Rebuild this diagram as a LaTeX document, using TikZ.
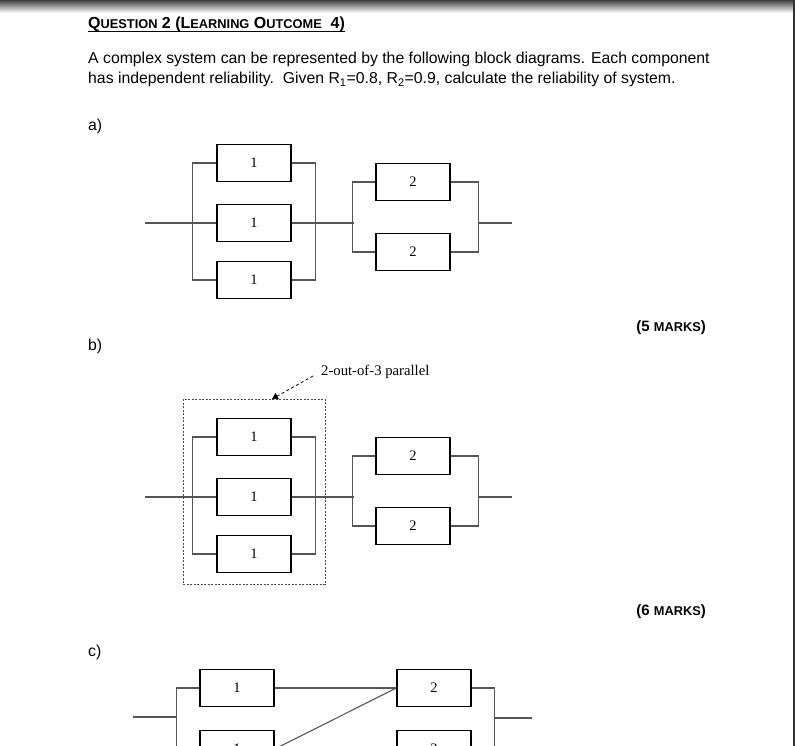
\documentclass[tikz,border=0pt]{standalone}
\usepackage{fontspec}
\setmainfont{Liberation Sans}
\newfontfamily\blkfont{Liberation Serif}
\usepackage{tikz}
\usetikzlibrary{positioning,arrows.meta,calc}
\definecolor{wiregray}{HTML}{555555}
\newcommand{\fsc}[1]{{\fontsize{12.8}{14}\selectfont #1}}
\tikzset{
  blk/.style={draw=black, line width=1.3pt, minimum width=74pt, minimum height=37pt,
              inner sep=0pt, font=\blkfont\fontsize{14.5}{16}\selectfont},
  wire/.style={draw=wiregray, line width=1.1pt},
  grp/.style={draw=black!70, line width=1pt, dash pattern=on 2pt off 1.5pt,
              minimum width=142pt, minimum height=185pt, inner sep=0pt},
  note/.style={-{Triangle[length=6pt,width=7pt]}, draw=black, line width=0.8pt,
               dash pattern=on 3pt off 2.5pt},
  txt/.style={anchor=base west, inner sep=0pt, font=\fontsize{15.8}{18}\selectfont},
  marks/.style={anchor=base east, inner sep=0pt, font=\bfseries\fontsize{15}{18}\selectfont},
}

\begin{document}
\begin{tikzpicture}[x=1pt,y=-1pt]
  \useasboundingbox (0,0) rectangle (795,746);
  \clip (0,0) rectangle (795,746);
  % page edge
  \shade[top color=black!75, bottom color=white] (0,0) rectangle (795,13);
  \draw[black!80, line width=2pt] (794,0) -- (794,746);

  % heading and question
  \node[anchor=base west, inner sep=0pt, font=\bfseries\fontsize{16}{18}\selectfont] (hd) at (88,29)
    {Q\fsc{UESTION} 2 (L\fsc{EARNING} O\fsc{UTCOME}\ \ 4)};
  \draw[line width=1.2pt] ([yshift=-2.5pt]hd.base west) -- ([yshift=-2.5pt]hd.base east);
  \node[txt] (q1) at (88,64)
    {A complex system can be represented by the following block diagrams. Each component};
  \node[txt] (q2) at (88,84)
    {has independent reliability.\ \ Given R\textsubscript{1}=0.8, R\textsubscript{2}=0.9, calculate the reliability of system.};

  \node[txt] (la) at (88,131) {a)};
  \node[txt] (lb) at (88,350) {b)};
  \node[txt] (lc) at (88,656) {c)};
  \node[marks] (m5) at (706,331) {(5 \fsc{MARKS})};
  \node[marks] (m6) at (706,615) {(6 \fsc{MARKS})};

  % a) three 1's in parallel, then two 2's in parallel
  \begin{scope}
    \node[blk] (a1t) at (254,163) {1};
    \node[blk] (a1m) at (254,223) {1};
    \node[blk] (a1b) at (254,280) {1};
    \node[blk] (a2t) at (413,182) {2};
    \node[blk] (a2b) at (413,252) {2};
    \coordinate (ain) at (145,223);
    \coordinate (aj) at (354,223);
    \coordinate (ak) at (478,223);
    \coordinate (aout) at (512,223);
    \draw[wire] (ain) -- (a1m.west);
    \draw[wire] (a1t.west) -- ++(-24,0) |- (a1b.west);
    \draw[wire] (a1t.east) -- ++(24,0) |- (a1b.east);
    \draw[wire] (a1m.east) -- (aj);
    \draw[wire] (a2t.west) -- ++(-23,0) |- (a2b.west);
    \draw[wire] (a2t.east) -- ++(28,0) |- (a2b.east);
    \draw[wire] (ak) -- (aout);
  \end{scope}

  % b) same, first stage is 2-out-of-3
  \begin{scope}[shift={(0,274)}]
    \node[blk] (b1t) at (254,163) {1};
    \node[blk] (b1m) at (254,223) {1};
    \node[blk] (b1b) at (254,280) {1};
    \node[blk] (b2t) at (413,182) {2};
    \node[blk] (b2b) at (413,252) {2};
    \coordinate (bin) at (145,223);
    \coordinate (bj) at (354,223);
    \coordinate (bk) at (478,223);
    \coordinate (bout) at (512,223);
    \draw[wire] (bin) -- (b1m.west);
    \draw[wire] (b1t.west) -- ++(-24,0) |- (b1b.west);
    \draw[wire] (b1t.east) -- ++(24,0) |- (b1b.east);
    \draw[wire] (b1m.east) -- (bj);
    \draw[wire] (b2t.west) -- ++(-23,0) |- (b2b.west);
    \draw[wire] (b2t.east) -- ++(28,0) |- (b2b.east);
    \draw[wire] (bk) -- (bout);
    \node[grp] (grp) at (254,217.5) {};
    \node[anchor=west, inner sep=0pt, font=\blkfont\fontsize{14.7}{16}\selectfont] (lab) at (321,98)
      {2-out-of-3 parallel};
    \coordinate (ntail) at (313,102);
    \coordinate (ntip) at (272,125);
    \draw[note] (ntail) -- (ntip);
  \end{scope}

  % c) bridge-like arrangement (cut at page end)
  \begin{scope}
    \node[blk] (c1t) at (237,688) {1};
    \node[blk] (c2t) at (434,688) {2};
    \node[blk] (c1b) at (237,749) {1};
    \node[blk] (c2b) at (434,749) {2};
    \coordinate (cin) at (133,717);
    \coordinate (cj) at (177,717);
    \coordinate (ck) at (494,718);
    \coordinate (cout) at (532,718);
    \draw[wire] (cin) -- (cj);
    \draw[wire] (c1t.west) -- ++(-23,0) |- (c1b.west);
    \draw[wire] (c2t.east) -- ++(23,0) |- (c2b.east);
    \draw[wire] (ck) -- (cout);
    \draw[wire] (c1t.east) -- (c2t.west);
    \draw[wire] (c1b.east) -- (c2t.west);
  \end{scope}
\end{tikzpicture}
\end{document}
